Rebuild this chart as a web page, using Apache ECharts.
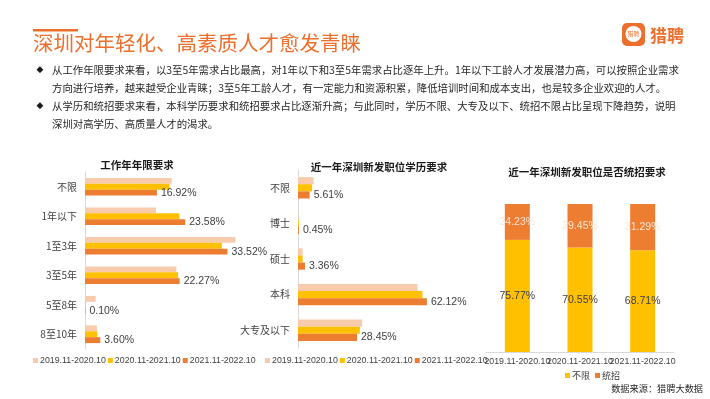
<!DOCTYPE html>
<html>
<head>
<meta charset="utf-8">
<script src="https://cdn.jsdelivr.net/npm/echarts@6/dist/echarts.min.js"></script>
<style>
  html, body { margin: 0; padding: 0; background: #fff; }
  #main { width: 710px; height: 399px; }
</style>
</head>
<body>
<div id="main"></div>
<script>
// periods / legend
const periods = ['2019.11-2020.10', '2020.11-2021.10', '2021.11-2022.10'];

// 工作年限要求
const expCats = ['不限', '1年以下', '1至3年', '3至5年', '5至8年', '8至10年'];
const exp2019 = [20.4, 16.7, 35.4, 21.5, 2.5, 2.8];
const exp2020 = [19.9, 22.2, 32.2, 21.9, 0.1, 2.9];
const exp2021 = [16.92, 23.58, 33.52, 22.27, 0.10, 3.60];

// 学历要求
const eduCats = ['不限', '博士', '硕士', '本科', '大专及以下'];
const edu2019 = [7.5, 0.3, 2.2, 57.6, 30.9];
const edu2020 = [6.8, 0.4, 2.2, 60.0, 29.8];
const edu2021 = [5.61, 0.45, 3.36, 62.12, 28.45];

// 是否统招
const unifiedNames = ['不限', '统招'];
const notRequired = [75.77, 70.55, 68.71];
const required = [24.23, 29.45, 31.29];

const mainTitle = '深圳对年轻化、高素质人才愈发青睐';
const bulletLines = [
  '从工作年限要求来看，以3至5年需求占比最高，对1年以下和3至5年需求占比逐年上升。1年以下工龄人才发展潜力高，可以按照企业需求',
  '方向进行培养，越来越受企业青睐；3至5年工龄人才，有一定能力和资源积累，降低培训时间和成本支出，也是较多企业欢迎的人才。',
  '从学历和统招要求来看，本科学历要求和统招要求占比逐渐升高；与此同时，学历不限、大专及以下、统招不限占比呈现下降趋势，说明',
  '深圳对高学历、高质量人才的渴求。'
];

const C19 = '#F8CBAD', C20 = '#FFC000', C21 = '#ED7D31';
const ORANGE = '#EC6F2D';
const FONT = '"Noto Sans CJK SC", "Noto Sans", sans-serif';
const NUMFONT = '"Liberation Sans", Arial, sans-serif';

const chart = echarts.init(document.getElementById('main'));

const pctLabel = {
  show: true, position: 'right', distance: 4,
  formatter: p => p.value.toFixed(2) + '%',
  fontSize: 10.5, color: '#404040', fontFamily: NUMFONT
};

function hbar(name, data, color, idx, label) {
  return {
    name, type: 'bar', xAxisIndex: idx, yAxisIndex: idx, data,
    itemStyle: { color }, barGap: '0%', barCategoryGap: '40%',
    label: label ? pctLabel : { show: false }, silent: true
  };
}

const legendBase = {
  itemWidth: 5, itemHeight: 5, itemGap: 2, icon: 'rect', padding: 0,
  textStyle: { fontSize: 8.8, color: '#404040', fontFamily: NUMFONT, padding: [0, 0, 0, -3] }
};

const catAxis = (idx, cats) => ({
  type: 'category', gridIndex: idx, data: cats, inverse: true,
  axisLine: { show: true, lineStyle: { color: '#d9d9d9' } },
  axisTick: { show: false },
  axisLabel: { fontSize: 10, color: '#404040', margin: 8, fontFamily: FONT }
});

const valAxis = (idx, max) => ({
  type: 'value', gridIndex: idx, min: 0, max, show: false, splitLine: { show: false }
});

const graphics = [
  { type: 'rect', shape: { x: 33, y: 29, width: 45, height: 2.5 }, style: { fill: ORANGE } },
  { type: 'text', x: 33, y: 43, style: { text: mainTitle, fontSize: 20.5, fill: ORANGE, fontFamily: FONT, verticalAlign: 'middle' } },
  // logo
  { type: 'rect', shape: { x: 622, y: 23, width: 23, height: 23, r: 5 }, style: { fill: ORANGE } },
  { type: 'circle', shape: { cx: 633.5, cy: 34, r: 8 }, style: { fill: '#fff' } },
  { type: 'text', x: 633.5, y: 34, style: { text: '猎聘', fontSize: 6, fill: ORANGE, fontFamily: FONT, align: 'center', verticalAlign: 'middle' } },
  { type: 'text', x: 650, y: 36, style: { text: '猎聘', fontSize: 17, fontWeight: 'bold', fill: ORANGE, fontFamily: FONT, verticalAlign: 'middle' } },
  // chart titles
  { type: 'text', x: 137, y: 165, style: { text: '工作年年限要求', fontSize: 10.5, fontWeight: 'bold', fill: '#1a1a1a', fontFamily: FONT, align: 'center', verticalAlign: 'middle' } },
  { type: 'text', x: 379, y: 167, style: { text: '近一年深圳新发职位学历要求', fontSize: 10.5, fontWeight: 'bold', fill: '#1a1a1a', fontFamily: FONT, align: 'center', verticalAlign: 'middle' } },
  { type: 'text', x: 587, y: 172, style: { text: '近一年深圳新发职位是否统招要求', fontSize: 10.5, fontWeight: 'bold', fill: '#1a1a1a', fontFamily: FONT, align: 'center', verticalAlign: 'middle' } },
  { type: 'text', x: 703, y: 389, style: { text: '数据来源：猎聘大数据', fontSize: 9.2, fill: '#262626', fontFamily: FONT, align: 'right', verticalAlign: 'middle' } }
];
const lineY = [70, 88.5, 106, 124];
bulletLines.forEach((t, i) => {
  graphics.push({ type: 'text', x: 52, y: lineY[i], style: { text: t, fontSize: 10.4, fill: '#262626', fontFamily: FONT, verticalAlign: 'middle' } });
});
[0, 2].forEach(i => {
  graphics.push({ type: 'text', x: 40, y: lineY[i], style: { text: '◆', fontSize: 9, fill: '#1a1a1a', fontFamily: 'DejaVu Sans', align: 'center', verticalAlign: 'middle' } });
});

chart.setOption({
  animation: false,
  textStyle: { fontFamily: FONT },
  graphic: graphics,
  grid: [
    { left: 85, top: 172, width: 170, height: 177 },
    { left: 298, top: 170, width: 166, height: 178 },
    { left: 486, top: 204, width: 188, height: 148 }
  ],
  legend: [
    Object.assign({ data: periods, left: 33, top: 356 }, legendBase),
    Object.assign({ data: periods, left: 265, top: 356 }, legendBase),
    Object.assign({ data: unifiedNames, left: 565, top: 371 }, legendBase, {
      itemGap: 5,
      textStyle: { fontSize: 9, color: '#404040', fontFamily: FONT, padding: [0, 0, 0, -3] }
    })
  ],
  xAxis: [
    valAxis(0, 40),
    valAxis(1, 80),
    {
      type: 'category', gridIndex: 2, data: periods,
      axisLine: { lineStyle: { color: '#d9d9d9' } }, axisTick: { show: false },
      axisLabel: { interval: 0, hideOverlap: false, fontSize: 8.8, color: '#404040', margin: 5, fontFamily: NUMFONT }
    }
  ],
  yAxis: [
    catAxis(0, expCats),
    catAxis(1, eduCats),
    { type: 'value', gridIndex: 2, min: 0, max: 100, show: false, splitLine: { show: false } }
  ],
  series: [
    hbar(periods[0], exp2019, C19, 0, false),
    hbar(periods[1], exp2020, C20, 0, false),
    hbar(periods[2], exp2021, C21, 0, true),
    hbar(periods[0], edu2019, C19, 1, false),
    hbar(periods[1], edu2020, C20, 1, false),
    hbar(periods[2], edu2021, C21, 1, true),
    {
      name: unifiedNames[0], type: 'bar', stack: 'u', xAxisIndex: 2, yAxisIndex: 2, data: notRequired,
      barWidth: 25, itemStyle: { color: C20 }, silent: true,
      label: { show: true, position: 'inside', formatter: p => p.value.toFixed(2) + '%', fontSize: 10.5, color: '#404040', fontFamily: NUMFONT }
    },
    {
      name: unifiedNames[1], type: 'bar', stack: 'u', xAxisIndex: 2, yAxisIndex: 2, data: required,
      barWidth: 25, itemStyle: { color: C21 }, silent: true,
      label: { show: true, position: 'inside', formatter: p => p.value.toFixed(2) + '%', fontSize: 10.5, color: '#FBE5D6', fontFamily: NUMFONT }
    }
  ]
});
</script>
</body>
</html>
